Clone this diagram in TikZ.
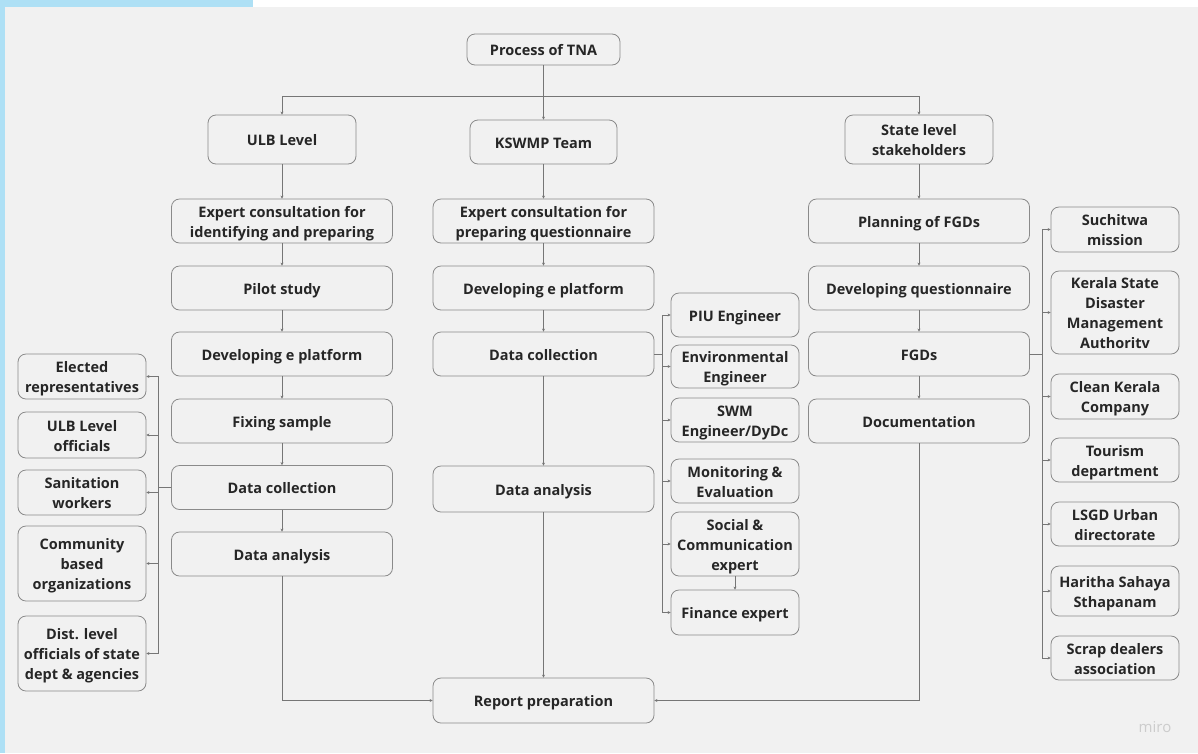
\documentclass[tikz,border=0pt]{standalone}
\usepackage{fontspec}
\setmainfont{Open Sans}
\usepackage{tikz}
\usetikzlibrary{arrows.meta}
\definecolor{bggray}{HTML}{F1F1F1}
\definecolor{edgegray}{HTML}{8A8A8A}
\definecolor{linegray}{HTML}{767676}
\definecolor{txtgray}{HTML}{262626}
\definecolor{stripblue}{HTML}{AEE0F5}

\begin{document}
\begin{tikzpicture}[x=1pt, y=-1pt,
  box/.style={draw=edgegray, line width=0.8pt, rounded corners=8pt, fill=bggray, align=center, inner sep=0pt,
    text=txtgray, font=\fontsize{14.5}{20}\selectfont\bfseries, text height=16.4pt, text depth=4pt},
  twoline/.style={text height=36.4pt},
  threeline/.style={text height=56.4pt},
  fourline/.style={text height=76.4pt},
  wide/.style={box, minimum width=221, minimum height=44},
  small/.style={box, minimum width=128},
  arr/.style={draw=linegray, line width=0.7pt, -{Stealth[length=3pt, width=3pt]}}]

\useasboundingbox (0,0) rectangle (1198,753);
\fill[bggray] (5,7) rectangle (1198,753);
\fill[stripblue] (0,0) rectangle (253,7);
\fill[stripblue] (0,0) rectangle (5,753);

% heads
\node[box, minimum width=153, minimum height=31] (tna) at (543.5,49.5) {Process of TNA};
\node[box, minimum width=148, minimum height=49] (ulb) at (282,139.5) {ULB Level};
\node[box, minimum width=147, minimum height=44] (kswmp) at (543.5,142) {KSWMP Team};
\node[box, twoline, minimum width=148, minimum height=49] (state) at (919,139.5) {State level\\stakeholders};

% ULB column
\node[wide, twoline] (u1) at (282,221) {Expert consultation for\\identifying and preparing};
\node[wide] (u2) at (282,288) {Pilot study};
\node[wide] (u3) at (282,354) {Developing e platform};
\node[wide] (u4) at (282,421) {Fixing sample};
\node[wide] (u5) at (282,487.5) {Data collection};
\node[wide] (u6) at (282,554) {Data analysis};

% KSWMP column
\node[wide, twoline] (k1) at (543.5,221) {Expert consultation for\\preparing questionnaire};
\node[wide] (k2) at (543.5,288) {Developing e platform};
\node[wide] (k3) at (543.5,354) {Data collection};
\node[wide, minimum height=46] (k4) at (543.5,489) {Data analysis};
\node[wide, minimum height=45] (rep) at (543.5,700.5) {Report preparation};

% state column
\node[wide] (s1) at (919,221) {Planning of FGDs};
\node[wide] (s2) at (919,288) {Developing questionnaire};
\node[wide] (s3) at (919,354) {FGDs};
\node[wide] (s4) at (919,421) {Documentation};

% ULB groups
\node[small, twoline, minimum height=45] (l1) at (82,376.5) {Elected\\representatives};
\node[small, twoline, minimum height=46] (l2) at (82,435) {ULB Level\\officials};
\node[small, twoline, minimum height=45] (l3) at (82,492.5) {Sanitation\\workers};
\node[small, threeline, minimum height=75] (l4) at (82,563.5) {Community\\based\\organizations};
\node[small, threeline, minimum height=75] (l5) at (82,653.5) {Dist. level\\officials of state\\dept \& agencies};

% KSWMP experts
\node[small, minimum height=44] (m1) at (735,315) {PIU Engineer};
\node[small, twoline, minimum height=43] (m2) at (735,366.5) {Environmental\\Engineer};
\node[small, twoline, minimum height=44] (m3) at (735,420) {SWM\\Engineer/DyDc};
\node[small, twoline, minimum height=44] (m4) at (735,481) {Monitoring \&\\Evaluation};
\node[small, threeline, minimum height=64] (m5) at (735,544) {Social \&\\Communication\\expert};
\node[small, minimum height=45] (m6) at (735,612.5) {Finance expert};

% state agencies
\node[small, twoline, minimum height=45] (r1) at (1115,229.5) {Suchitwa\\mission};
\node[small, fourline, minimum height=83] (r2) at (1115,312.5) {Kerala State\\Disaster\\Management\\Authoritv};
\node[small, twoline, minimum height=45] (r3) at (1115,396.5) {Clean Kerala\\Company};
\node[small, twoline, minimum height=44] (r4) at (1115,460) {Tourism\\department};
\node[small, twoline, minimum height=44] (r5) at (1115,524) {LSGD Urban\\directorate};
\node[small, twoline, minimum height=50] (r6) at (1115,591) {Haritha Sahaya\\Sthapanam};
\node[small, twoline, minimum height=44] (r7) at (1115,658) {Scrap dealers\\association};

\node[text=black!20, font=\fontsize{15}{18}\selectfont] (miro) at (1155,727) {miro};

% connectors
\draw[arr] (tna.south) -- (kswmp.north);
\draw[arr] (tna.south) -- ++(0,31) -| (ulb.north);
\draw[arr] (tna.south) -- ++(0,31) -| (state.north);

\foreach \i/\j in {ulb/u1, u1/u2, u2/u3, u3/u4, u4/u5, u5/u6, kswmp/k1, k1/k2, k2/k3, k3/k4, k4/rep, state/s1, s1/s2, s2/s3, s3/s4, m5/m6}
\draw[arr] (\i.south) -- (\j.north);

\foreach \j in {l1, l2, l3, l4, l5}
\draw[arr] (u5.west) -- ++(-13,0) |- (\j.east);
\foreach \j in {m1, m2, m3, m4, m5, m6}
\draw[arr] (k3.east) -- ++(8,0) |- (\j.west);
\foreach \j in {r1, r2, r3, r4, r5, r6, r7}
\draw[arr] (s3.east) -- ++(12,0) |- (\j.west);

\draw[arr] (u6.south) |- (rep.west);
\draw[arr] (s4.south) |- (rep.east);

\end{tikzpicture}
\end{document}
